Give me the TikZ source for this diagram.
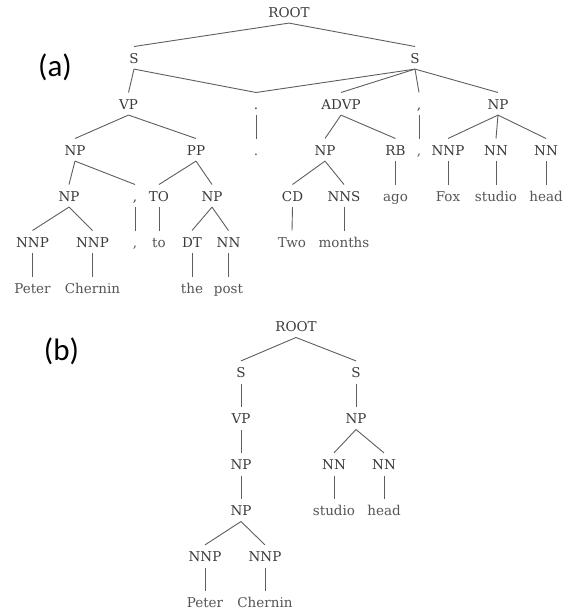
\documentclass[tikz,border=0pt]{standalone}
\usepackage{fontspec}
\setmainfont{DejaVu Serif}
\newfontfamily\capfont{Carlito}
\definecolor{labc}{HTML}{3A3A3A}
\definecolor{leafc}{HTML}{555555}
\definecolor{edgec}{HTML}{5E5E5E}
\begin{document}
\begin{tikzpicture}[x=1pt,y=-1pt,
  lab/.style={anchor=base, font=\fontsize{13.5}{15}\selectfont, text=labc,
    text height=11pt, text depth=0pt, inner ysep=5.6pt, inner xsep=1pt},
  leaf/.style={lab, text=leafc},
  edge/.style={draw=edgec, line width=0.9pt},
  panellabel/.style={font=\capfont\fontsize{31}{34}\selectfont, text=black, inner sep=0pt}]
\useasboundingbox (0,0) rectangle (571,615);
\node[panellabel] (la) at (55,67) {(a)};
\node[panellabel] (lb) at (61.5,351) {(b)};
% ---- tree (a)
\node[lab] (aROOT) at (289,17.3) {ROOT};
\node[lab] (aS1) at (134,63.3) {S};
\node[lab] (aS2) at (415,63.3) {S};
\node[lab] (aVP) at (128.5,109.3) {VP};
\node[lab] (aP1) at (256,109.3) {.};
\node[lab] (aADVP) at (341,109.3) {ADVP};
\node[lab] (aC1) at (419,109.3) {,};
\node[lab] (aNP1) at (498,109.3) {NP};
\node[lab] (aNP2) at (75,155.3) {NP};
\node[lab] (aPP) at (196,155.3) {PP};
\node[leaf] (aP2) at (256,155.3) {.};
\node[lab] (aNP3) at (325,155.3) {NP};
\node[lab] (aRB) at (395.5,155.3) {RB};
\node[leaf] (aC2) at (419,155.3) {,};
\node[lab] (aNNP1) at (448,155.3) {NNP};
\node[lab] (aNN1) at (496,155.3) {NN};
\node[lab] (aNN2) at (546,155.3) {NN};
\node[lab] (aNP4) at (69,201.3) {NP};
\node[lab] (aC3) at (135,201.3) {,};
\node[lab] (aTO) at (159,201.3) {TO};
\node[lab] (aNP5) at (212,201.3) {NP};
\node[lab] (aCD) at (292.5,201.3) {CD};
\node[lab] (aNNS) at (344,201.3) {NNS};
\node[leaf] (aago) at (395.5,201.3) {ago};
\node[leaf] (aFox) at (448,201.3) {Fox};
\node[leaf] (astudio) at (496,201.3) {studio};
\node[leaf] (ahead) at (546,201.3) {head};
\node[lab] (aNNP2) at (32.5,247.3) {NNP};
\node[lab] (aNNP3) at (92.5,247.3) {NNP};
\node[leaf] (aC4) at (135,247.3) {,};
\node[leaf] (ato) at (159,247.3) {to};
\node[lab] (aDT) at (192,247.3) {DT};
\node[lab] (aNN3) at (228.5,247.3) {NN};
\node[leaf] (aTwo) at (292,247.3) {Two};
\node[leaf] (amonths) at (344,247.3) {months};
\node[leaf] (aPeter) at (32.5,293.3) {Peter};
\node[leaf] (aChernin) at (92.5,293.3) {Chernin};
\node[leaf] (athe) at (192,293.3) {the};
\node[leaf] (apost) at (228.5,293.3) {post};
\foreach \p/\c in {aROOT/aS1, aROOT/aS2, aS1/aVP, aS1/aP1, aS2/aP1, aS2/aADVP,
  aS2/aC1, aS2/aNP1, aVP/aNP2, aVP/aPP, aP1/aP2, aADVP/aNP3, aADVP/aRB, aC1/aC2,
  aNP1/aNNP1, aNP1/aNN1, aNP1/aNN2, aNP2/aNP4, aNP2/aC3, aPP/aTO, aPP/aNP5,
  aNP3/aCD, aNP3/aNNS, aRB/aago, aNNP1/aFox, aNN1/astudio, aNN2/ahead,
  aNP4/aNNP2, aNP4/aNNP3, aC3/aC4, aTO/ato, aNP5/aDT, aNP5/aNN3,
  aCD/aTwo, aNNS/amonths, aNNP2/aPeter, aNNP3/aChernin, aDT/athe, aNN3/apost}
  \draw[edge] (\p.south) -- (\c.north);
% ---- tree (b)
\node[lab] (bROOT) at (296,331.7) {ROOT};
\node[lab] (bS1) at (241,377.7) {S};
\node[lab] (bS2) at (356,377.7) {S};
\node[lab] (bVP) at (241,423.7) {VP};
\node[lab] (bNP1) at (356,423.7) {NP};
\node[lab] (bNP2) at (241,469.7) {NP};
\node[lab] (bNN1) at (334,469.7) {NN};
\node[lab] (bNN2) at (384,469.7) {NN};
\node[lab] (bNP3) at (241,515.7) {NP};
\node[leaf] (bstudio) at (334,515.7) {studio};
\node[leaf] (bhead) at (384,515.7) {head};
\node[lab] (bNNP1) at (205,561.7) {NNP};
\node[lab] (bNNP2) at (265,561.7) {NNP};
\node[leaf] (bPeter) at (205,607.7) {Peter};
\node[leaf] (bChernin) at (265,607.7) {Chernin};
\foreach \p/\c in {bROOT/bS1, bROOT/bS2, bS1/bVP, bS2/bNP1, bVP/bNP2,
  bNP1/bNN1, bNP1/bNN2, bNP2/bNP3, bNN1/bstudio, bNN2/bhead,
  bNP3/bNNP1, bNP3/bNNP2, bNNP1/bPeter, bNNP2/bChernin}
  \draw[edge] (\p.south) -- (\c.north);
\end{tikzpicture}
\end{document}
